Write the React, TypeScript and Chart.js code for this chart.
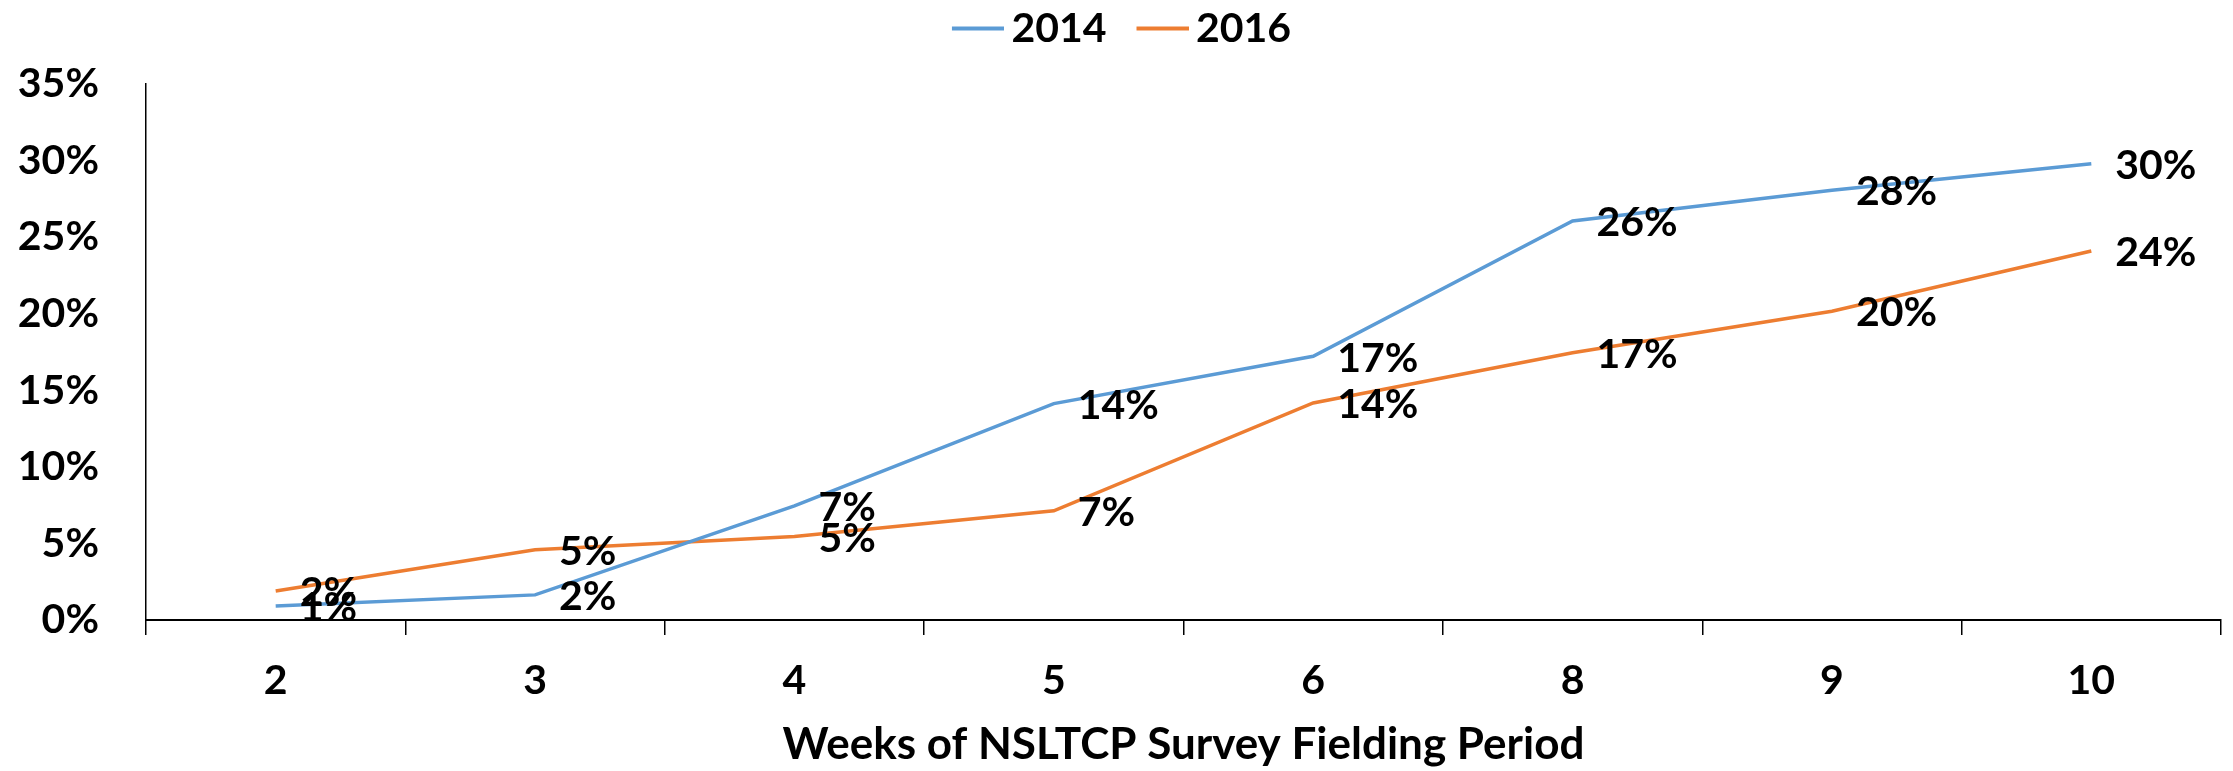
import React, { useEffect, useRef } from 'react';
import { Chart, registerables } from 'chart.js';

Chart.register(...registerables);

const weeks = ['2', '3', '4', '5', '6', '8', '9', '10'];
const series2014 = [0.92, 1.64, 7.45, 14.13, 17.22, 26.05, 28.06, 29.8];
const series2016 = [1.9, 4.58, 5.45, 7.13, 14.17, 17.45, 20.16, 24.09];
const seriesNames = ['2014', '2016'];
const seriesColors = ['#5B9BD5', '#ED7D31'];
const yMin = 0;
const yMax = 35;
const yStep = 5;
const xTitle = 'Weeks of NSLTCP Survey Fielding Period';

const FONT = 'Lato, "Open Sans", sans-serif';
const FS = 41;

function legendSwatch(color: string) {
  const c = document.createElement('canvas');
  c.width = 87;
  c.height = 6;
  const g = c.getContext('2d')!;
  g.fillStyle = color;
  g.fillRect(35, 1, 52, 4);
  return c;
}

const dataLabelPlugin = {
  id: 'dataLabels',
  afterDatasetsDraw(chart: any) {
    const ctx = chart.ctx;
    ctx.save();
    ctx.font = `bold ${FS}px ${FONT}`;
    ctx.fillStyle = '#000';
    ctx.textAlign = 'left';
    ctx.textBaseline = 'middle';
    chart.data.datasets.forEach((ds: any, di: number) => {
      const meta = chart.getDatasetMeta(di);
      meta.data.forEach((pt: any, i: number) => {
        ctx.fillText(Math.round(ds.data[i]) + '%', pt.x + 24, pt.y + 2);
      });
    });
    ctx.restore();
  },
};

export default function App() {
  const ref = useRef<HTMLCanvasElement | null>(null);

  useEffect(() => {
    document.body.style.margin = '0';
    const canvas = ref.current;
    if (!canvas) return;
    const chart = new Chart(canvas, {
      type: 'line',
      data: {
        labels: weeks,
        datasets: [series2014, series2016].map((d, i) => ({
          label: seriesNames[i],
          data: d,
          borderColor: seriesColors[i],
          backgroundColor: seriesColors[i],
          borderWidth: 3.5,
          pointRadius: 0,
          tension: 0,
          fill: false,
        })),
      },
      options: {
        animation: false,
        responsive: true,
        maintainAspectRatio: false,
        devicePixelRatio: 1,
        layout: { padding: { top: 0, left: 0, right: 12, bottom: 0 } },
        plugins: {
          tooltip: { enabled: false },
          title: {
            display: true,
            text: '',
            weight: 100,
            padding: { top: 24, bottom: 0 },
            font: { size: 1, lineHeight: 1 },
          } as any,
          legend: {
            display: true,
            position: 'top',
            labels: {
              usePointStyle: true,
              pointStyleWidth: 61,
              padding: 8,
              color: '#000',
              font: { family: FONT, size: FS, weight: 'bold' },
              generateLabels: (chart: any) =>
                (Chart.defaults.plugins.legend.labels as any)
                  .generateLabels(chart)
                  .map((it: any, i: number) => ({ ...it, pointStyle: legendSwatch(seriesColors[i]) })),
            },
          },
        },
        scales: {
          x: {
            type: 'category',
            offset: true,
            grid: {
              display: true,
              offset: true,
              drawOnChartArea: false,
              drawTicks: true,
              tickLength: 15,
              color: '#000',
              lineWidth: 1.5,
            },
            border: { display: true, color: '#000', width: 2 },
            ticks: {
              color: '#000',
              font: { family: FONT, size: FS, weight: 'bold' },
              padding: 21,
              maxRotation: 0,
              autoSkip: false,
            },
            title: {
              display: true,
              text: xTitle,
              color: '#000',
              font: { family: FONT, size: 44, weight: 'bold' },
              padding: { top: 0, bottom: 0 },
            },
            afterFit: (scale: any) => {
              scale.height = 151;
            },
          },
          y: {
            min: yMin,
            max: yMax,
            grid: { display: true, drawOnChartArea: false, drawTicks: false },
            border: { display: true, color: '#000', width: 1.5 },
            ticks: {
              stepSize: yStep,
              color: '#000',
              padding: 47,
              font: { family: FONT, size: FS, weight: 'bold' },
              callback: (v: any) => v + '%',
            },
            afterFit: (scale: any) => {
              scale.width = 146;
            },
          },
        },
      } as any,
      plugins: [dataLabelPlugin],
    });
    return () => chart.destroy();
  }, []);

  return (
    <div style={{ width: '2233px', height: '771px', position: 'relative', background: '#fff' }}>
      <canvas ref={ref} />
    </div>
  );
}
